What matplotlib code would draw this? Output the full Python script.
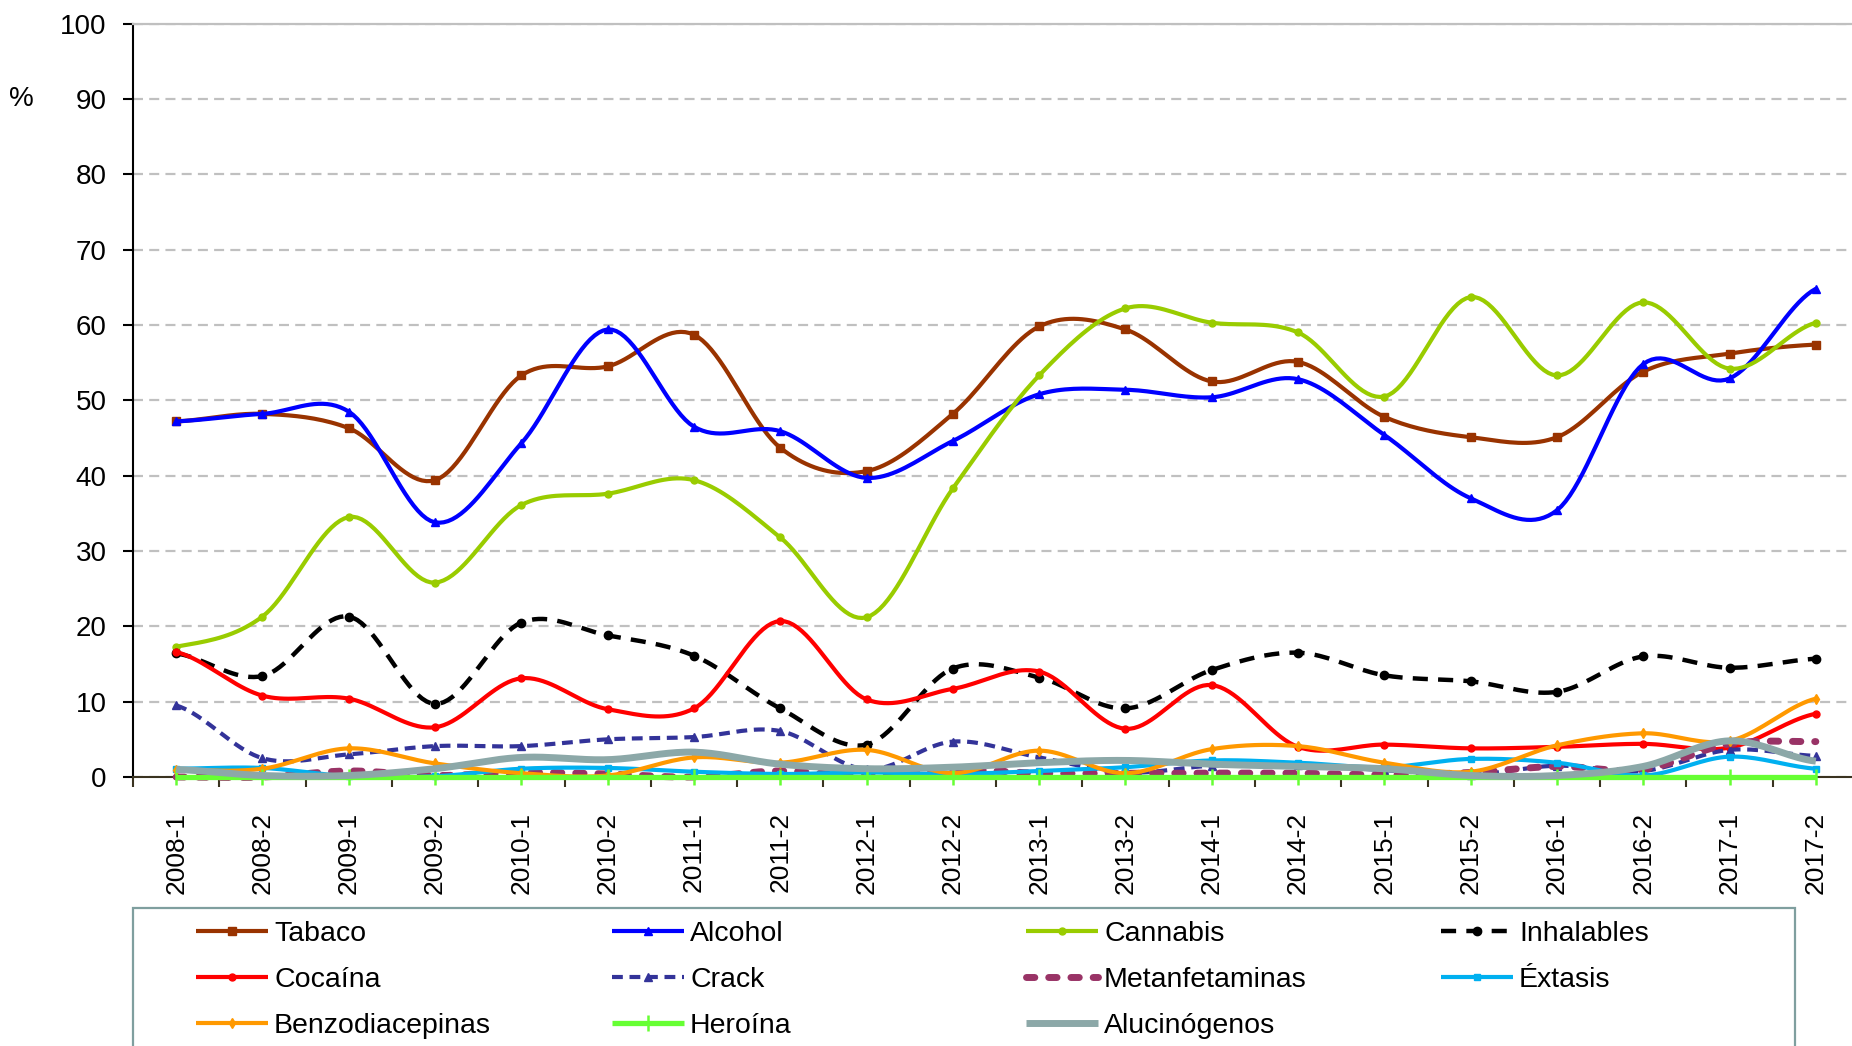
import numpy as np
import matplotlib
matplotlib.use("Agg")
import matplotlib.pyplot as plt
from matplotlib.patches import Rectangle

plt.rcParams['font.family'] = ['Liberation Sans', 'DejaVu Sans']

# ── data ─────────────────────────────────────────────────────────────────────
periods = ['2008-1', '2008-2', '2009-1', '2009-2', '2010-1', '2010-2', '2011-1',
           '2011-2', '2012-1', '2012-2', '2013-1', '2013-2', '2014-1', '2014-2',
           '2015-1', '2015-2', '2016-1', '2016-2', '2017-1', '2017-2']

tabaco = [47.2, 48.2, 46.3, 39.4, 53.3, 54.5, 58.7, 43.7, 40.6, 48.2,
          59.8, 59.4, 52.5, 55.1, 47.8, 45.1, 45.1, 53.8, 56.2, 57.4]
alcohol = [47.2, 48.2, 48.5, 33.8, 44.3, 59.4, 46.5, 45.9, 39.7, 44.6,
           50.8, 51.4, 50.4, 52.8, 45.4, 37.0, 35.4, 54.8, 52.9, 64.8]
cannabis = [17.3, 21.3, 34.5, 25.8, 36.1, 37.6, 39.4, 31.8, 21.2, 38.3,
            53.3, 62.2, 60.3, 59.0, 50.5, 63.7, 53.3, 63.0, 54.2, 60.3]
inhalables = [16.4, 13.4, 21.3, 9.7, 20.5, 18.8, 16.1, 9.1, 4.3, 14.4,
              13.2, 9.1, 14.2, 16.5, 13.5, 12.7, 11.3, 16.0, 14.5, 15.7]
cocaina = [16.6, 10.8, 10.4, 6.6, 13.1, 9.0, 9.1, 20.7, 10.3, 11.7,
           14.0, 6.4, 12.2, 4.0, 4.3, 3.8, 4.0, 4.4, 3.9, 8.4]
crack = [9.5, 2.5, 3.0, 4.1, 4.1, 5.0, 5.3, 6.1, 1.0, 4.7,
         2.6, 0.6, 1.5, 1.6, 0.9, 0.3, 1.5, 0.8, 3.6, 2.8]
metanfetaminas = [0.0, 0.0, 0.8, 0.2, 0.6, 0.4, 0.0, 0.8, 0.1, 1.0,
                  0.5, 0.5, 0.5, 0.5, 0.3, 0.6, 1.4, 1.0, 4.4, 4.7]
extasis = [1.1, 1.2, 0.1, 0.1, 1.1, 1.2, 0.7, 0.4, 0.6, 0.4,
           0.8, 1.3, 2.2, 1.9, 1.3, 2.4, 1.9, 0.2, 2.7, 1.1]
benzodiacepinas = [0.9, 1.1, 3.8, 1.8, 0.5, 0.2, 2.6, 1.9, 3.6, 0.5,
                   3.5, 0.5, 3.7, 4.1, 1.9, 0.7, 4.2, 5.8, 4.8, 10.4]
heroina = [0.0] * 20
alucinogenos = [1.0, 0.2, 0.2, 1.1, 2.6, 2.3, 3.3, 1.7, 1.1, 1.3,
                1.9, 2.2, 1.7, 1.4, 1.1, 0.2, 0.2, 1.4, 4.8, 2.1]

y_ticks = list(range(0, 101, 10))

N_SUB = 20  # samples per segment for the smoothed curve


def smooth(vals, n=N_SUB):
    """Catmull-Rom curve through the points (Excel-like smoothed line)."""
    v = np.asarray(vals, float)
    p = np.concatenate([[v[0]], v, [v[-1]]])
    t = np.linspace(0, 1, n, endpoint=False)
    xs, ys = [], []
    for i in range(len(v) - 1):
        p0, p1, p2, p3 = p[i], p[i + 1], p[i + 2], p[i + 3]
        seg = 0.5 * (2 * p1 + (-p0 + p2) * t + (2 * p0 - 5 * p1 + 4 * p2 - p3) * t ** 2
                     + (-p0 + 3 * p1 - 3 * p2 + p3) * t ** 3)
        xs.extend(i + t)
        ys.extend(seg)
    xs.append(len(v) - 1)
    ys.append(v[-1])
    return np.array(xs), np.array(ys)


series = [
    ('Tabaco', tabaco, dict(color='#993300', lw=3.0, marker='s', ms=5.5)),
    ('Alcohol', alcohol, dict(color='#0000FF', lw=3.0, marker='^', ms=6)),
    ('Cannabis', cannabis, dict(color='#99CC00', lw=3.0, marker='o', ms=5)),
    ('Inhalables', inhalables, dict(color='#000000', lw=3.2, marker='o', ms=6,
                                    dashes=(3.4, 2.3))),
    ('Cocaína', cocaina, dict(color='#FF0000', lw=3.0, marker='o', ms=5)),
    ('Crack', crack, dict(color='#333399', lw=3.0, marker='^', ms=5.5,
                          dashes=(2.6, 1.6))),
    ('Metanfetaminas', metanfetaminas, dict(color='#993366', lw=5.0,
                                            dashes=(1.2, 2.0),
                                            dash_capstyle='round')),
    ('Éxtasis', extasis, dict(color='#00B0F0', lw=3.0, marker='s', ms=5)),
    ('Benzodiacepinas', benzodiacepinas, dict(color='#FF9900', lw=3.0,
                                              marker='d', ms=5)),
    ('Heroína', heroina, dict(color='#66FF33', lw=3.8, marker='|', ms=12,
                              mew=1.8)),
    ('Alucinógenos', alucinogenos, dict(color='#8CA8A8', lw=5.0)),
]

fig = plt.figure(figsize=(18.52, 10.46), dpi=100)
ax = fig.add_axes([133 / 1852, 269 / 1046, 1726 / 1852, 753.4 / 1046])

handles = {}
for name, vals, style in series:
    xs, ys = smooth(vals)
    line, = ax.plot(xs, ys, label=name, markevery=N_SUB, clip_on=False,
                    solid_capstyle='butt', zorder=3, **style)
    handles[name] = line

ax.set_xlim(-0.5, len(periods) - 0.5)
ax.set_ylim(0, 100)
ax.set_yticks(y_ticks)
ax.set_xticks(range(len(periods)))
ax.set_xticklabels(periods, rotation=90, fontsize=19)
ax.set_xticks(np.arange(-0.5, len(periods), 1.0), minor=True)
ax.tick_params(axis='x', which='major', length=0, pad=25)
ax.tick_params(axis='x', which='minor', length=7, width=1.5, color='#3a3320')
ax.tick_params(axis='y', length=7, width=1.5, labelsize=20, pad=12)

ax.yaxis.grid(True, color='#C0C0C0', linestyle=(0, (4.5, 2.8)), linewidth=1.6)
ax.set_axisbelow(True)

ax.spines['right'].set_visible(False)
ax.spines['top'].set_color('#C0C0C0')
ax.spines['top'].set_linewidth(1.6)
ax.spines['left'].set_color('black')
ax.spines['left'].set_linewidth(1.5)
ax.spines['bottom'].set_color('#3a3320')
ax.spines['bottom'].set_linewidth(1.5)

fig.text(21 / 1852, 1 - 99 / 1046, '%', fontsize=20, ha='center', va='center')

# ── legend: 4 columns laid out row by row, like the original ─────────────────
columns = [
    ['Tabaco', 'Cocaína', 'Benzodiacepinas'],
    ['Alcohol', 'Crack', 'Heroína'],
    ['Cannabis', 'Metanfetaminas', 'Alucinógenos'],
    ['Inhalables', 'Éxtasis'],
]
col_x = [196, 612, 1026, 1441]
for cx, names in zip(col_x, columns):
    fig.legend([handles[n] for n in names], names, loc='upper left',
               bbox_to_anchor=(cx / 1852, 1 - 921 / 1046),
               frameon=False, fontsize=20.5, handlelength=2.52, handletextpad=0.22,
               borderpad=0, borderaxespad=0, labelspacing=0.71, numpoints=1)

fig.patches.append(Rectangle((133 / 1852, -0.05), (1795 - 133) / 1852,
                             (1046 - 908) / 1046 + 0.05, transform=fig.transFigure,
                             fill=False, edgecolor='#7F9F9F', linewidth=1.6))

fig.savefig('out.png', dpi=100)
